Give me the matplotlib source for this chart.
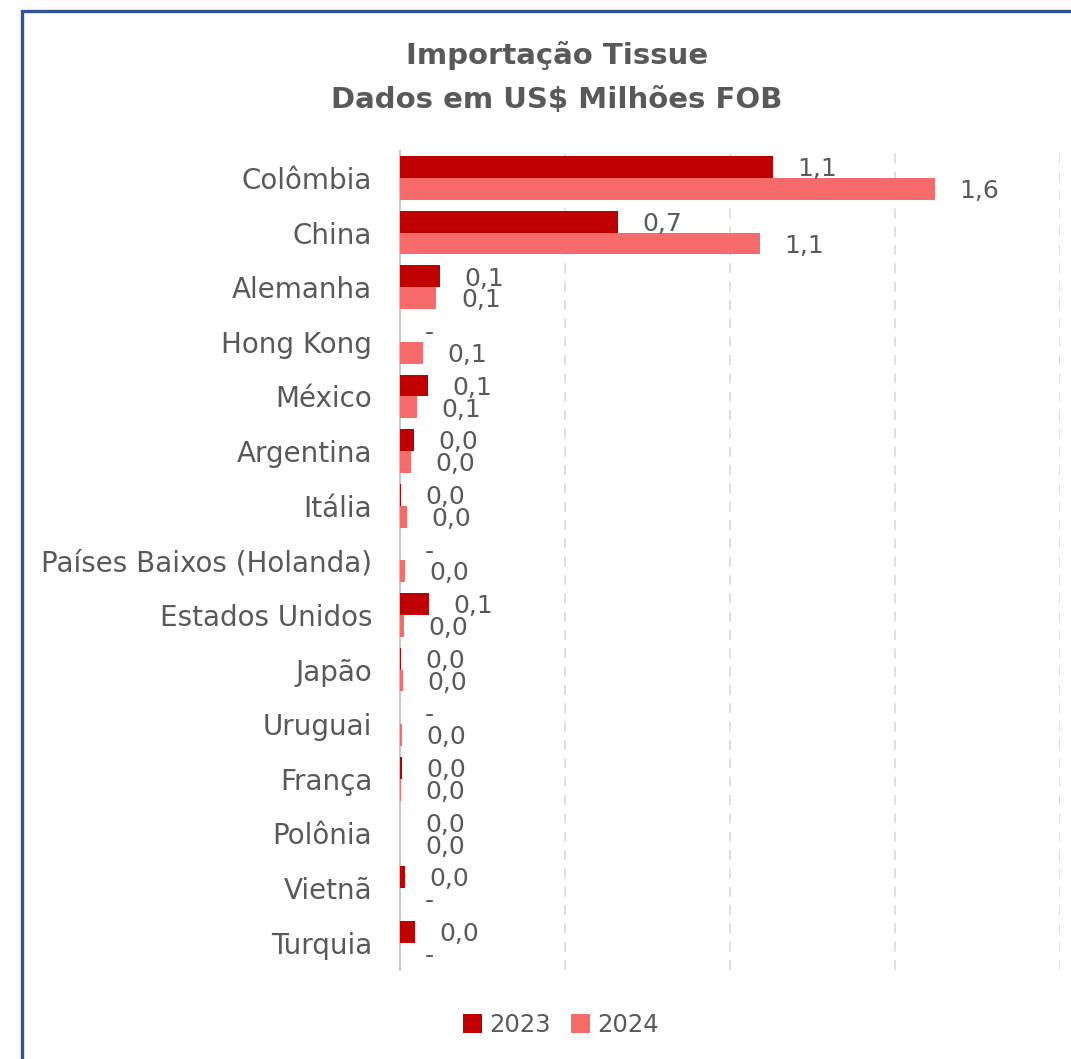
import matplotlib
matplotlib.use("Agg")
import matplotlib.pyplot as plt
from matplotlib.patches import Rectangle

categories = ["Colômbia", "China", "Alemanha", "Hong Kong", "México", "Argentina",
              "Itália", "Países Baixos (Holanda)", "Estados Unidos", "Japão",
              "Uruguai", "França", "Polônia", "Vietnã", "Turquia"]
v2023 = [1.13, 0.66, 0.12, 0.0, 0.085, 0.042, 0.003, 0.0, 0.088, 0.002,
         0.0, 0.005, 0.001, 0.015, 0.045]
v2024 = [1.62, 1.09, 0.11, 0.07, 0.05, 0.033, 0.02, 0.015, 0.012, 0.008,
         0.005, 0.002, 0.001, 0.0, 0.0]
series_names = ["2023", "2024"]
title_lines = ["Importação Tissue", "Dados em US$ Milhões FOB"]

c2023 = "#C00000"
c2024 = "#F86B6B"
grey = "#595959"

W, H = 1071, 1059
fig = plt.figure(figsize=(W / 100, H / 100), dpi=100)
fig.patch.set_facecolor("white")

# blue frame (left and top edges visible, rest runs off the image)
fig.patches.append(Rectangle((22 / W, -0.05), 1.2, 1 - 11 / H + 0.05,
                             transform=fig.transFigure, fill=False,
                             edgecolor="#2F5597", linewidth=2.4, zorder=0))

ax = fig.add_axes([400 / W, 1 - 970 / H, (1060 - 400) / W, (970 - 150.7) / H])
ax.set_facecolor("none")

n = len(categories)
ys = list(range(n))
bh = 0.4
ax.barh([y - bh / 2 for y in ys], v2023, height=bh, color=c2023, label=series_names[0], zorder=3)
ax.barh([y + bh / 2 for y in ys], v2024, height=bh, color=c2024, label=series_names[1], zorder=3)

def fmt(v):
    return "-" if v == 0 else f"{v:.1f}".replace(".", ",")

off = 0.075
for y, a, b in zip(ys, v2023, v2024):
    ax.text(a + off, y - bh / 2 + 0.04, fmt(a), va="center", ha="left",
            fontsize=18, color=grey, zorder=4)
    ax.text(b + off, y + bh / 2 + 0.04, fmt(b), va="center", ha="left",
            fontsize=18, color=grey, zorder=4)

ax.set_xlim(0, 2.0)
ax.set_ylim(n - 0.5, -0.5)
ax.set_xticks([0.5, 1.0, 1.5, 2.0])
ax.set_xticklabels([])
ax.tick_params(axis="x", length=0)
ax.grid(axis="x", color="#D9D9D9", linestyle=(0, (6, 5)), linewidth=1.2, zorder=1)
ax.set_yticks(ys)
ax.set_yticklabels(categories, fontsize=20, color=grey)
ax.tick_params(axis="y", length=0, pad=20)
for s in ["top", "right", "bottom"]:
    ax.spines[s].set_visible(False)
ax.spines["left"].set_color("#BFBFBF")
ax.spines["left"].set_linewidth(1.2)

fig.text(557 / W, 1 - 55 / H, title_lines[0], ha="center", va="center",
         fontsize=21, fontweight="bold", color=grey)
fig.text(557 / W, 1 - 100 / H, title_lines[1], ha="center", va="center",
         fontsize=21, fontweight="bold", color=grey)

leg = fig.legend(loc="center", bbox_to_anchor=(561 / W, 1 - 1025 / H), ncol=2,
                 frameon=False, fontsize=17.5, handlelength=0.8, handleheight=0.8,
                 handletextpad=0.3, columnspacing=0.8)
for t in leg.get_texts():
    t.set_color(grey)

fig.savefig("out.png", dpi=100, facecolor="white")
